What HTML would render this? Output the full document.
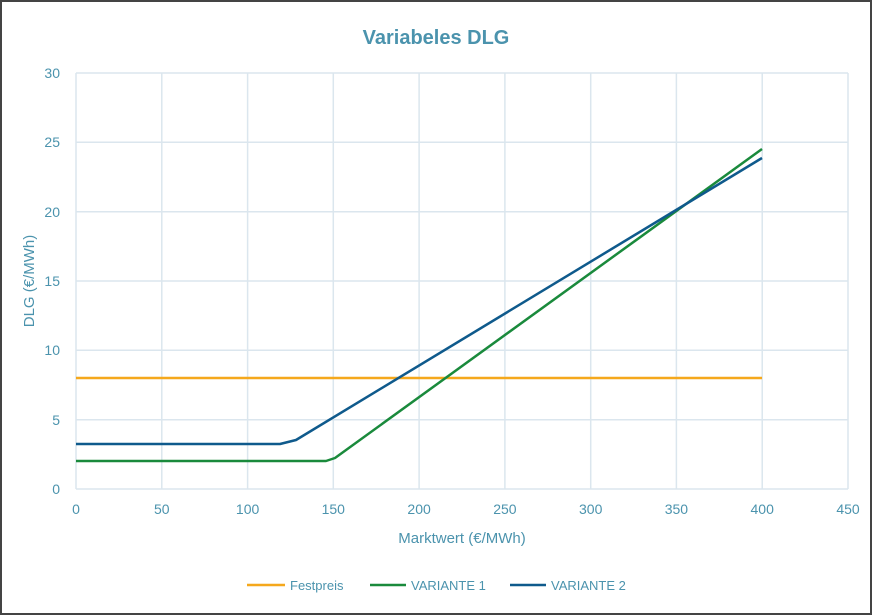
<!DOCTYPE html><html><head><style>body{margin:0}svg{display:block}text{font-family:"Liberation Sans",sans-serif;fill:#4b93ad}</style></head><body>
<svg width="872" height="615" xmlns="http://www.w3.org/2000/svg">
<rect x="1" y="1" width="870" height="613" fill="#fff" stroke="#444" stroke-width="2"/>
<text x="436" y="44" text-anchor="middle" font-size="20" font-weight="bold" fill="#5a9ab4">Variabeles DLG</text>
<g stroke="#dbe6ee" stroke-width="1.5">
<line x1="76" y1="73" x2="848" y2="73"/><line x1="76" y1="142.3" x2="848" y2="142.3"/><line x1="76" y1="211.7" x2="848" y2="211.7"/><line x1="76" y1="281" x2="848" y2="281"/><line x1="76" y1="350.3" x2="848" y2="350.3"/><line x1="76" y1="419.7" x2="848" y2="419.7"/><line x1="76" y1="489" x2="848" y2="489"/>
<line x1="76" y1="73" x2="76" y2="489"/><line x1="161.8" y1="73" x2="161.8" y2="489"/><line x1="247.6" y1="73" x2="247.6" y2="489"/><line x1="333.3" y1="73" x2="333.3" y2="489"/><line x1="419.1" y1="73" x2="419.1" y2="489"/><line x1="504.9" y1="73" x2="504.9" y2="489"/><line x1="590.7" y1="73" x2="590.7" y2="489"/><line x1="676.4" y1="73" x2="676.4" y2="489"/><line x1="762.2" y1="73" x2="762.2" y2="489"/><line x1="848" y1="73" x2="848" y2="489"/>
</g>
<g font-size="14" text-anchor="end">
<text x="60" y="78">30</text><text x="60" y="147">25</text><text x="60" y="217">20</text><text x="60" y="286">15</text><text x="60" y="355">10</text><text x="60" y="425">5</text><text x="60" y="494">0</text></g>
<g font-size="14" text-anchor="middle">
<text x="76" y="514">0</text><text x="161.8" y="514">50</text><text x="247.6" y="514">100</text><text x="333.3" y="514">150</text><text x="419.1" y="514">200</text><text x="504.9" y="514">250</text><text x="590.7" y="514">300</text><text x="676.4" y="514">350</text><text x="762.2" y="514">400</text><text x="848" y="514">450</text></g>
<text x="462" y="543" text-anchor="middle" font-size="15">Marktwert (€/MWh)</text>
<text transform="translate(34,281) rotate(-90)" text-anchor="middle" font-size="15">DLG (€/MWh)</text>
<g fill="none" stroke-width="2.5" stroke-linejoin="round">
<polyline stroke="#f5a81c" points="76,378 762,378"/>
<polyline stroke="#1a8a3c" points="76,461 326,461 335,458 762,149"/>
<polyline stroke="#0f5a8c" points="76,444 280,444 296,440 762,158"/>
</g>
<g font-size="13">
<line x1="247" y1="585" x2="285" y2="585" stroke="#f5a81c" stroke-width="2.5"/><text x="290" y="590">Festpreis</text>
<line x1="370" y1="585" x2="406" y2="585" stroke="#1a8a3c" stroke-width="2.5"/><text x="411" y="590">VARIANTE 1</text>
<line x1="510" y1="585" x2="546" y2="585" stroke="#0f5a8c" stroke-width="2.5"/><text x="551" y="590">VARIANTE 2</text>
</g>
</svg></body></html>
